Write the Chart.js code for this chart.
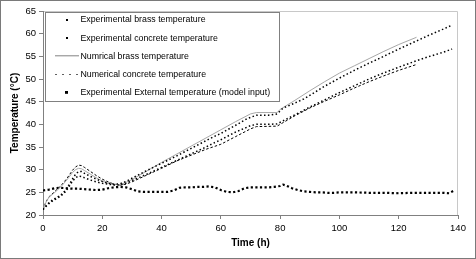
<!DOCTYPE html>
<html><head><meta charset="utf-8">
<script src="https://cdn.jsdelivr.net/npm/chart.js@4.4.1/dist/chart.umd.min.js"></script>
<style>html,body{margin:0;padding:0;background:#fff;overflow:hidden}canvas{display:block}</style>
</head><body>
<canvas id="c" width="476" height="259"></canvas>
<script>
// ---- data (time in h, temperature in °C) ----
const seriesLabels = [
  "Experimental brass temperature",
  "Experimental concrete temperature",
  "Numrical brass temperature",
  "Numerical concrete temperature",
  "Experimental External temperature (model input)"
];
const xTicks = [0, 20, 40, 60, 80, 100, 120, 140];
const yTicks = [20, 25, 30, 35, 40, 45, 50, 55, 60, 65];

const brassExpTime = [0,1,2,3,4,5,6,7,8,9,10,11,12,13,14,16,18,20,22,24,26,28,30,35,40,45,50,55,58,60,65,69,72,76,79,81,85,88,90,95,100,105,110,114,120,125,130,135,138];
const brassExpTemp = [21.2,22.0,22.7,23.2,23.6,24.0,24.4,25.0,25.8,26.9,28.0,29.0,29.6,29.6,29.2,28.5,27.9,27.4,27.0,26.8,26.9,27.4,28.1,29.8,31.4,33.0,34.7,36.4,37.4,38.0,39.8,41.3,42.0,42.0,42.3,43.6,44.7,45.6,46.4,48.4,50.2,51.9,53.5,54.7,56.6,58.1,59.6,61.0,61.9];

const concExpTime = [0,1,2,3,4,5,6,7,8,9,10,11,12,13,14,16,18,20,22,24,26,28,30,35,40,45,50,55,58,60,65,70,72,76,79,82,85,88,90,95,100,105,110,114,120,125,130,135,138];
const concExpTemp = [21.2,21.9,22.5,23.0,23.4,23.8,24.2,24.7,25.5,26.5,27.5,28.2,28.6,28.5,28.2,27.7,27.3,27.0,26.8,26.6,26.6,27.0,27.6,29.0,30.5,32.0,33.5,35.0,36.0,36.6,38.3,39.7,40.0,40.0,40.1,41.1,42.1,43.1,43.8,45.4,47.0,48.5,50.0,51.1,52.6,53.8,54.9,55.9,56.6];

const brassNumTime = [0,1,2,4,6,8,10,11,12,13,14,16,18,20,22,24,26,28,30,35,40,45,50,55,60,65,70,72,79,80,85,90,95,100,105,110,115,120,126];
const brassNumTemp = [21.2,22.8,23.9,25.0,26.2,27.7,29.4,30.0,30.3,30.2,29.8,29.0,28.2,27.5,27.0,26.7,26.7,27.2,27.8,29.7,31.6,33.4,35.2,37.0,38.8,40.6,42.3,42.6,42.6,43.3,45.3,47.4,49.4,51.3,52.9,54.5,56.1,57.6,59.2];

const concNumTime = [0,1,2,4,6,8,10,11,12,13,14,16,18,20,22,24,26,28,30,35,40,45,50,55,60,65,70,72,79,80,85,90,95,100,105,110,115,120,126];
const concNumTemp = [21.2,22.9,24.0,25.2,26.4,28.0,29.9,30.6,31.0,30.9,30.5,29.6,28.7,27.9,27.3,26.8,26.6,26.8,27.3,28.8,30.3,31.9,33.2,34.5,35.6,37.3,39.0,39.5,39.6,40.0,41.9,43.6,45.1,46.5,48.0,49.4,50.7,51.9,53.2];

const extTime = [0,2,4,6,8,10,12,14,16,18,20,22,24,26,28,30,32,34,36,38,40,42,44,46,48,50,52,54,56,58,60,62,64,66,68,70,72,74,76,78,80,81,82,84,86,88,90,92,94,96,98,100,105,110,115,120,125,130,135,137,139];
const extTemp = [25.4,25.6,25.9,26.0,25.9,25.8,25.8,25.7,25.6,25.5,25.6,25.9,26.1,26.2,26.1,25.7,25.2,25.1,25.1,25.1,25.1,25.1,25.4,26.0,26.1,26.1,26.2,26.2,26.3,26.1,25.5,25.1,25.0,25.3,25.9,26.1,26.1,26.1,26.1,26.2,26.4,26.7,26.5,25.9,25.5,25.2,25.1,25.0,25.0,24.9,24.9,25.0,25.0,24.9,24.9,24.8,24.9,24.9,24.9,24.8,25.5];

const pts = (xs, ys) => xs.map((x, i) => ({x, y: ys[i]}));

const FONT = '"Liberation Sans", Arial, sans-serif';

// legend sample images
function sample(w, h, draw) { const c = document.createElement('canvas'); c.width = w; c.height = h; draw(c.getContext('2d')); return c; }
const dotImg = sample(2, 2, g => { g.fillStyle = '#000'; g.fillRect(0, 0, 2, 2); });
const grayImg = sample(24, 2, g => { g.fillStyle = '#a8a8a8'; g.fillRect(0, 0, 24, 1); });
const dashImg = sample(24, 2, g => { g.fillStyle = '#000'; [0, 7, 14, 21].forEach(x => g.fillRect(x, 0, 2, 1)); });
const sqImg = sample(4, 4, g => { g.fillStyle = '#000'; g.fillRect(0, 0, 3, 3); });
const legendImgs = [dotImg, dotImg, grayImg, dashImg, sqImg];

const framePlugin = {
  id: 'frame',
  beforeDraw(chart) {
    const {ctx, chartArea: a} = chart;
    ctx.save();
    ctx.fillStyle = '#fff'; ctx.fillRect(0, 0, chart.width, chart.height);
    ctx.strokeStyle = '#7a7a7a'; ctx.lineWidth = 1;
    ctx.strokeRect(0.5, 0.5, chart.width - 1, chart.height - 1);
    ctx.strokeStyle = '#c8c8c8';
    ctx.beginPath();
    ctx.moveTo(a.left, a.top + 0.5); ctx.lineTo(a.right - 0.5, a.top + 0.5); ctx.lineTo(a.right - 0.5, a.bottom);
    ctx.stroke();
    ctx.restore();
  },
  afterLayout(chart) {
    const lg = chart.legend;
    if (lg) { lg.left = chart.chartArea.left + 5.6; lg.top = chart.chartArea.top - 4.8; }
  },
  afterDraw(chart) {
    const {ctx, chartArea: a} = chart;
    ctx.save();
    ctx.strokeStyle = '#808080'; ctx.lineWidth = 1;
    ctx.strokeRect(a.left + 2.5, a.top + 1.5, 234, 89);
    ctx.restore();
  }
};

new Chart(document.getElementById('c'), {
  type: 'scatter',
  data: {
    datasets: [
      { label: seriesLabels[0], data: pts(brassExpTime, brassExpTemp), showLine: true, pointRadius: 0, borderColor: '#000', borderWidth: 1.5, borderDash: [1.5, 2.4] },
      { label: seriesLabels[1], data: pts(concExpTime, concExpTemp), showLine: true, pointRadius: 0, borderColor: '#000', borderWidth: 1.5, borderDash: [1.5, 2.4] },
      { label: seriesLabels[2], data: pts(brassNumTime, brassNumTemp), showLine: true, pointRadius: 0, borderColor: '#a8a8a8', borderWidth: 1 },
      { label: seriesLabels[3], data: pts(concNumTime, concNumTemp), showLine: true, pointRadius: 0, borderColor: '#000', borderWidth: 1, borderDash: [2.5, 2] },
      { label: seriesLabels[4], data: pts(extTime, extTemp), showLine: true, pointRadius: 0, borderColor: '#000', borderWidth: 2.2, borderDash: [2.2, 2.4] }
    ]
  },
  options: {
    responsive: false,
    animation: false,
    devicePixelRatio: 1,
    layout: { padding: { left: 0, right: 18, top: 11, bottom: 0 } },
    plugins: {
      tooltip: { enabled: false },
      legend: {
        position: 'chartArea',
        align: 'start',
        labels: {
          usePointStyle: true,
          pointStyleWidth: 18,
          padding: 9.4,
          color: '#000',
          font: { family: FONT, size: 8.8 },
          generateLabels: (chart) => chart.data.datasets.map((d, i) => ({
            text: d.label, pointStyle: legendImgs[i], fillStyle: '#000', strokeStyle: '#000',
            lineWidth: 0, hidden: false, datasetIndex: i, fontColor: '#000'
          }))
        }
      }
    },
    scales: {
      x: {
        type: 'linear', min: 0, max: 140,
        afterFit: s => { s.height = 44; },
        afterBuildTicks: s => { s.ticks = xTicks.map(v => ({value: v})); },
        ticks: { color: '#000', font: { family: FONT, size: 9.5 }, padding: 4, maxRotation: 0 },
        grid: { display: true, drawOnChartArea: false, drawTicks: true, tickLength: 4, color: '#808080' },
        border: { display: true, color: '#808080', width: 1 },
        title: { display: true, text: 'Time (h)', color: '#000', font: { family: FONT, size: 10, weight: 'bold' }, padding: { top: 0, bottom: 10 } }
      },
      y: {
        min: 20, max: 65,
        afterFit: s => { s.width = 43; },
        afterBuildTicks: s => { s.ticks = yTicks.map(v => ({value: v})); },
        ticks: { color: '#000', font: { family: FONT, size: 9.5 }, padding: 3 },
        grid: { display: true, drawOnChartArea: false, drawTicks: true, tickLength: 4, color: '#808080' },
        border: { display: true, color: '#808080', width: 1 },
        title: { display: true, text: 'Temperature (°C)', color: '#000', font: { family: FONT, size: 10, weight: 'bold' }, padding: { top: 9, bottom: 0 } }
      }
    }
  },
  plugins: [framePlugin]
});
</script>
</body></html>
